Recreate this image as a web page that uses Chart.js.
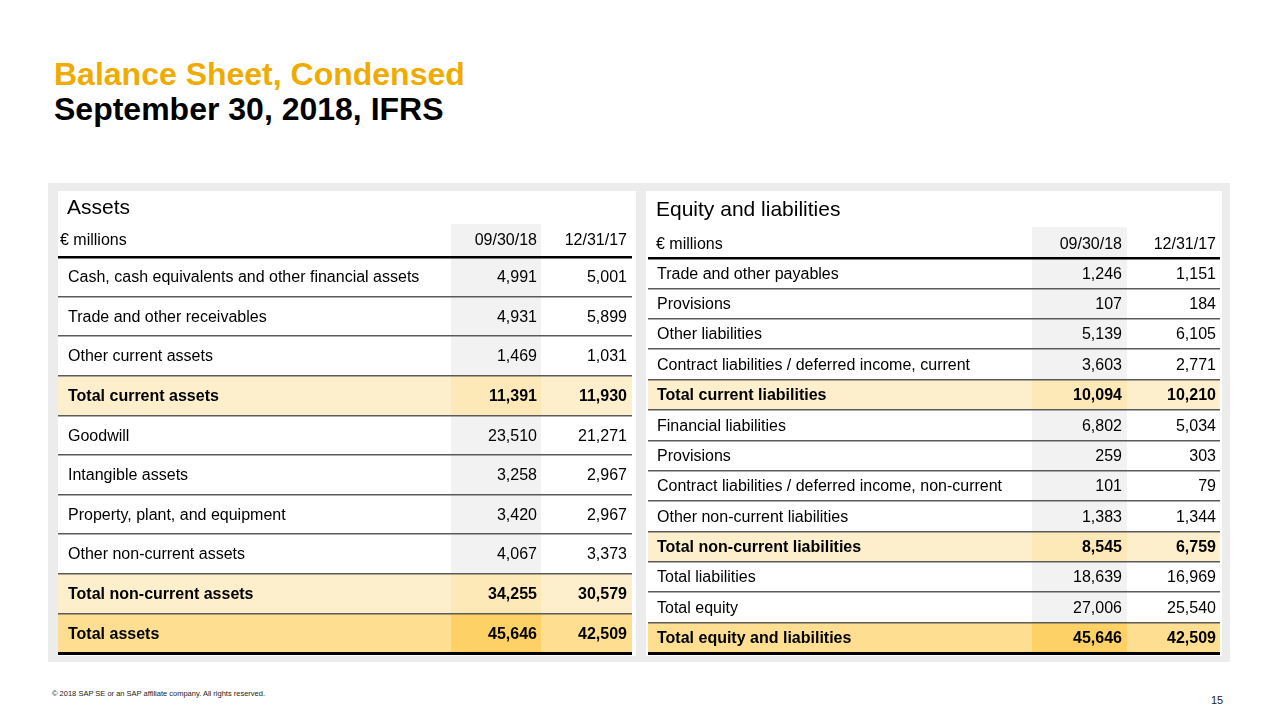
<!DOCTYPE html>
<html>
<head>
<meta charset="utf-8">
<script src="https://cdn.jsdelivr.net/npm/chart.js@4.4.1/dist/chart.umd.min.js"></script>
<style>
  html, body { margin:0; padding:0; background:#fff; }
  body { width:1280px; height:720px; position:relative; overflow:hidden; font-family:'Liberation Sans', Arial, sans-serif; }
  #t1 { position:absolute; left:54px; top:54px; font-size:32px; font-weight:bold; color:#F0AB00; margin:0; line-height:40px; }
  #t2 { position:absolute; left:54px; top:89px; font-size:32px; font-weight:bold; color:#000; margin:0; line-height:40px; }
  #panel { position:absolute; left:48px; top:183px; width:1182px; height:479px; background:#ececec; }
  canvas { position:absolute; background:#fff; }
  #cA { left:58px; top:191px; }
  #cL { left:646px; top:191px; }
  #foot { position:absolute; left:52px; top:689px; font-size:7.5px; color:#222; }
  #page { position:absolute; left:1211px; top:694px; font-size:11px; color:#222; }
</style>
</head>
<body>
<div id="t1">Balance Sheet, Condensed</div>
<div id="t2">September 30, 2018, IFRS</div>
<div id="panel"></div>
<canvas id="cA" width="578" height="465"></canvas>
<canvas id="cL" width="576" height="465"></canvas>
<div id="foot">© 2018 SAP SE or an SAP affiliate company. All rights reserved.</div>
<div id="page">15</div>
<script>
// ---------- DATA ----------
const columnHeaders = ['09/30/18', '12/31/17'];
const unitLabel = '€ millions';

const assetsTitle = 'Assets';
const assetRows = [
  'Cash, cash equivalents and other financial assets',
  'Trade and other receivables',
  'Other current assets',
  'Total current assets',
  'Goodwill',
  'Intangible assets',
  'Property, plant, and equipment',
  'Other non-current assets',
  'Total non-current assets',
  'Total assets'
];
const assets2018 = [4991, 4931, 1469, 11391, 23510, 3258, 3420, 4067, 34255, 45646];
const assets2017 = [5001, 5899, 1031, 11930, 21271, 2967, 2967, 3373, 30579, 42509];

const liabTitle = 'Equity and liabilities';
const liabRows = [
  'Trade and other payables',
  'Provisions',
  'Other liabilities',
  'Contract liabilities / deferred income, current',
  'Total current liabilities',
  'Financial liabilities',
  'Provisions',
  'Contract liabilities / deferred income, non-current',
  'Other non-current liabilities',
  'Total non-current liabilities',
  'Total liabilities',
  'Total equity',
  'Total equity and liabilities'
];
const liab2018 = [1246, 107, 5139, 3603, 10094, 6802, 259, 101, 1383, 8545, 18639, 27006, 45646];
const liab2017 = [1151, 184, 6105, 2771, 10210, 5034, 303, 79, 1344, 6759, 16969, 25540, 42509];

// ---------- RENDERING ----------
const FONT = "'Liberation Sans', Arial, Helvetica, sans-serif";
const fmt = v => v.toLocaleString('en-US');

const tablePlugin = {
  id: 'table',
  beforeDraw(chart, args, o) {
    const ctx = chart.ctx, y = chart.scales.y, ca = chart.chartArea;
    const n = chart.data.labels.length;
    ctx.save();
    ctx.fillStyle = '#f2f2f2';
    ctx.fillRect(o.shadeL, o.headShadeTop, o.shadeR - o.shadeL, ca.top - o.headShadeTop);
    for (let i = 0; i < n; i++) {
      const t = y.getPixelForValue(i - 0.5), b = y.getPixelForValue(i + 0.5);
      let rowBg = null, colBg = '#f2f2f2';
      if (o.lightRows.includes(i)) { rowBg = '#fdefcc'; colBg = '#fde8b8'; }
      if (o.darkRows.includes(i)) { rowBg = '#fedf92'; colBg = '#fdd166'; }
      if (rowBg) { ctx.fillStyle = rowBg; ctx.fillRect(ca.left, t, ca.right - ca.left, b - t); }
      ctx.fillStyle = colBg;
      ctx.fillRect(o.shadeL, t, o.shadeR - o.shadeL, b - t);
    }
    ctx.restore();
  },
  afterDraw(chart, args, o) {
    const ctx = chart.ctx, y = chart.scales.y;
    const labels = chart.data.labels;
    ctx.save();
    ctx.fillStyle = '#000';
    ctx.textBaseline = 'middle';
    ctx.font = '21px ' + FONT;
    ctx.textAlign = 'left';
    ctx.fillText(o.title, o.titleX, o.titleY);
    ctx.font = '16px ' + FONT;
    ctx.fillText(o.unit, o.unitX, o.headY);
    ctx.textAlign = 'right';
    ctx.fillText(o.headers[0], o.v1R, o.headY);
    ctx.fillText(o.headers[1], o.v2R, o.headY);
    for (let i = 0; i < labels.length; i++) {
      const cy = y.getPixelForValue(i) + 1;
      const bold = o.boldRows.includes(i);
      ctx.font = (bold ? 'bold ' : '') + '16px ' + FONT;
      ctx.textAlign = 'left';
      ctx.fillText(labels[i], o.labelX, cy);
      ctx.textAlign = 'right';
      ctx.fillText(fmt(o.col1[i]), o.v1R, cy);
      ctx.fillText(fmt(o.col2[i]), o.v2R, cy);
    }
    ctx.restore();
  }
};

function makeTable(id, rows, c1, c2, padding, opts) {
  const isEdge = c => c.index === 0 || c.index === undefined || c.index >= rows.length;
  return new Chart(document.getElementById(id), {
    type: 'bar',
    data: { labels: rows, datasets: [] },
    options: {
      responsive: false,
      animation: false,
      events: [],
      indexAxis: 'y',
      layout: { padding },
      plugins: {
        legend: { display: false },
        tooltip: { enabled: false },
        table: Object.assign({ col1: c1, col2: c2, headers: columnHeaders, unit: unitLabel }, opts)
      },
      scales: {
        x: { display: false, min: 0, max: 1 },
        y: {
          type: 'category',
          offset: true,
          afterFit: s => { s.width = 0; },
          border: { display: false },
          ticks: { display: false },
          grid: {
            offset: true,
            drawTicks: false,
            color: c => isEdge(c) ? '#000' : '#5a5a5a',
            lineWidth: c => c.index === 0 ? 2.5 : (isEdge(c) ? 3 : 1.5)
          }
        }
      }
    },
    plugins: [tablePlugin]
  });
}

makeTable('cA', assetRows, assets2018, assets2017,
  { top: 66, bottom: 3, left: 0, right: 4 },
  { title: assetsTitle, titleX: 9, titleY: 17, unitX: 2, headY: 50, headShadeTop: 33,
    labelX: 10, shadeL: 393, shadeR: 483, v1R: 479, v2R: 569,
    boldRows: [3, 8, 9], lightRows: [3, 8], darkRows: [9] });

makeTable('cL', liabRows, liab2018, liab2017,
  { top: 67, bottom: 3, left: 2, right: 2 },
  { title: liabTitle, titleX: 10, titleY: 19, unitX: 10, headY: 54, headShadeTop: 36,
    labelX: 11, shadeL: 386, shadeR: 481, v1R: 476, v2R: 570,
    boldRows: [4, 9, 12], lightRows: [4, 9], darkRows: [12] });
</script>
</body>
</html>
